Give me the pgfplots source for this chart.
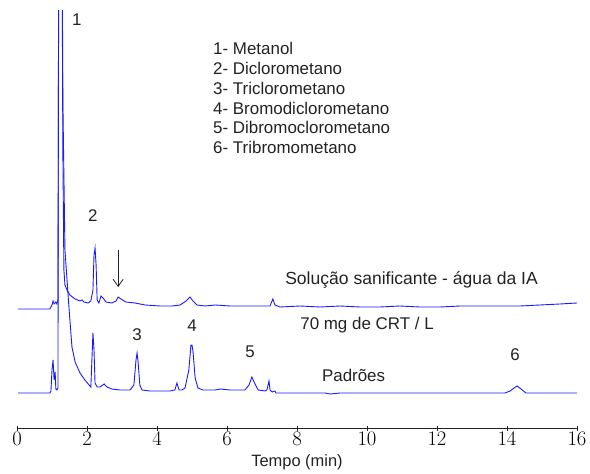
\documentclass[border=0pt]{standalone}
\usepackage{fontspec}
\setmainfont{Liberation Sans}
\usepackage{pgfplots}
\pgfplotsset{compat=1.18}
\usetikzlibrary{arrows.meta}
\definecolor{trace}{HTML}{1A1AFF}
\definecolor{ink}{HTML}{222222}
\tikzset{lbl/.style={text=ink,font=\fontsize{17}{20}\selectfont}}

\begin{document}
\begin{tikzpicture}
  \useasboundingbox (-17bp,-46bp) rectangle (573bp,428bp);
  \begin{axis}[at={(0,0)},anchor=south west,
    scale only axis,width=560bp,height=417bp,
    xmin=0,xmax=16,ymin=46,ymax=463,
    axis x line=bottom,axis y line=none,
    x axis line style={-,ink,line width=0.8bp},
    xtick={0,2,...,16},minor xtick={},
    tick align=center,major tick length=5bp,
    tick style={ink,line width=0.8bp},
    xticklabel style={font=\fontsize{20}{22}\selectfont,inner sep=1bp,text=black},
    xlabel={Tempo (min)},
    xlabel style={font=\fontsize{16.5}{19}\selectfont,text=ink,
      at={(axis description cs:0.5,-0.0815)},anchor=center},
    clip mode=individual]

    % solucao sanificante (upper trace)
    \addplot[trace,line width=0.9bp] coordinates {
      (0.03,165)(0.94,165)(1.00,169)(1.03,173)(1.06,170)(1.11,172)(1.14,170)(1.17,174)
      (1.21,774)(1.26,774)(1.31,324)(1.34,204)(1.37,189)(1.43,184)(1.51,179)(1.66,175)
      (1.80,173)(1.86,174)(1.91,172)(2.03,171)(2.11,173)(2.17,184)(2.20,219)(2.23,226)
      (2.26,209)(2.29,174)(2.34,171)(2.40,178)(2.46,176)(2.54,172)(2.71,171)(2.83,173)
      (2.89,177)(2.97,175)(3.11,172)(3.37,171)(3.66,169)(4.09,168)(4.43,168)(4.66,169)
      (4.83,173)(4.94,177)(5.03,173)(5.14,169)(5.37,168)(5.66,169)(6.09,168)(6.94,168)
      (7.23,168)(7.31,175)(7.37,169)(7.51,167)(8.09,168)(8.66,167)(9.23,168)(9.80,167)
      (10.37,167)(10.94,168)(11.51,167)(12.09,167)(12.66,168)(13.23,168)(13.80,168)
      (14.37,168)(14.94,169)(15.51,170)(16.00,171)};

    % padroes (lower trace)
    \addplot[trace,line width=0.9bp] coordinates {
      (0.03,81)(0.94,81)(0.97,83)(1.00,104)(1.03,114)(1.06,94)(1.09,102)(1.11,85)
      (1.14,84)(1.17,86)(1.20,774)(1.26,774)(1.31,374)(1.37,224)(1.43,194)(1.49,164)
      (1.57,127)(1.66,112)(1.80,101)(1.94,94)(2.06,89)(2.11,87)(2.14,114)(2.17,141)
      (2.20,124)(2.23,91)(2.29,87)(2.37,87)(2.49,90)(2.57,87)(2.71,85)(2.94,84)
      (3.23,84)(3.34,89)(3.40,114)(3.43,121)(3.46,112)(3.51,89)(3.57,84)(3.80,83)
      (4.09,83)(4.37,83)(4.51,84)(4.57,91)(4.63,84)(4.71,84)(4.80,86)(4.91,104)
      (4.97,129)(5.00,129)(5.03,122)(5.09,96)(5.17,86)(5.31,84)(5.66,84)(5.80,85)
      (6.09,84)(6.51,84)(6.63,89)(6.71,97)(6.80,90)(6.89,84)(7.09,83)(7.14,84)
      (7.20,93)(7.23,84)(7.29,82)(7.37,83)(7.40,81)(8.09,81)(8.80,81)(8.94,80)
      (9.23,81)(10.37,81)(11.51,81)(12.66,81)(13.94,81)(14.09,83)(14.20,86)(14.29,88)
      (14.40,85)(14.54,81)(14.94,81)(16.00,81)};

    \node[lbl] at (axis cs:1.71,454) {1};
    \node[lbl] at (axis cs:2.17,258) {2};
    \node[lbl] at (axis cs:3.43,139) {3};
    \node[lbl] at (axis cs:5.00,148) {4};
    \node[lbl] at (axis cs:6.66,122) {5};
    \node[lbl] at (axis cs:14.23,119) {6};
    \draw[ink,line width=0.8bp,-{Straight Barb[length=7bp,width=10bp]}]
      (axis cs:2.89,224) -- (axis cs:2.89,187);
    \node[lbl,anchor=west,align=left,inner sep=0pt] at (axis cs:5.6,376)
      {1- Metanol\\2- Diclorometano\\3- Triclorometano\\4- Bromodiclorometano\\
       5- Dibromoclorometano\\6- Tribromometano};
    \node[lbl,font=\fontsize{17.6}{20}\selectfont,anchor=west,inner sep=0pt]
      at (axis cs:7.66,194) {Solução sanificante - água da IA};
    \node[lbl,anchor=west,inner sep=0pt] at (axis cs:8.09,149) {70 mg de CRT / L};
    \node[lbl,anchor=west,inner sep=0pt] at (axis cs:8.71,99) {Padrões};
  \end{axis}
\end{tikzpicture}
\end{document}
